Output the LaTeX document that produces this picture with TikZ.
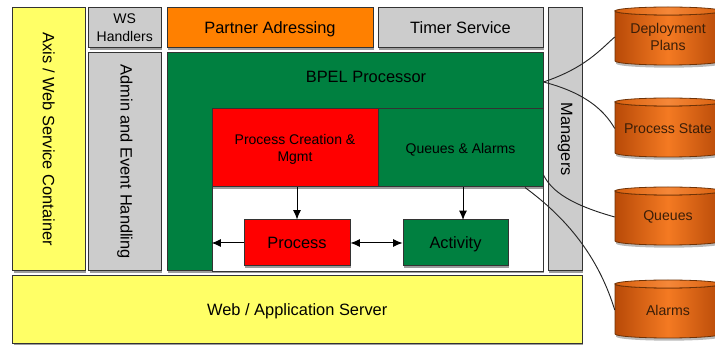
\documentclass[tikz,border=0pt]{standalone}
\usepackage{fontspec}
\setmainfont{Liberation Sans}
\usepackage{graphicx}
\usetikzlibrary{shadows,arrows.meta}

\definecolor{cyellow}{HTML}{FFFF66}
\definecolor{cgray}{HTML}{CCCCCC}
\definecolor{corange}{HTML}{FF8000}
\definecolor{cgreen}{HTML}{008040}
\definecolor{cred}{HTML}{FF0000}
\definecolor{drumside}{HTML}{B84A08}
\definecolor{drummid}{HTML}{F47A22}
\definecolor{drumtop}{HTML}{D8600E}
\definecolor{drumline}{HTML}{6E3206}
\definecolor{drumtext}{HTML}{3A1E08}

\tikzset{
  blk/.style={draw=black!80, line width=0.75pt, inner sep=0pt, align=center,
    font=\fontsize{12.3}{14.5}\selectfont,
    drop shadow={shadow xshift=0.8pt, shadow yshift=-1.2pt, opacity=0.55, fill=black!70}},
  flat/.style={text depth=0pt},
  small/.style={font=\fontsize{10.5}{13}\selectfont},
  flow/.style={-{Latex[length=7pt,width=6pt]}, line width=0.75pt},
  wire/.style={line width=0.7pt, black!85},
  drumlabel/.style={inner sep=0pt, align=center, text=drumtext,
    font=\fontsize{10.6}{13}\selectfont},
}

% box spanning (#2,#3)-(#4,#5): #1 name, #6 extra style, #7 text
\newcommand{\tile}[7]{%
  \node[blk, #6, minimum width={(#4-#2)*0.75pt}, minimum height={(#5-#3)*0.75pt}]
    (#1) at ({(#2+#4)/2},{(#3+#5)/2}) {#7};}

% cylinder: #1 name, #2 top y, #3 bottom y, #4 label
\newcommand{\drum}[4]{%
  \path[drop shadow={shadow xshift=0.8pt, shadow yshift=-2pt, opacity=0.45, fill=black!60},
        left color=drumside, right color=drumside, middle color=drummid,
        draw=drumline, line width=0.6pt]
    (615,#2+4) -- (615,#3-4) arc[start angle=180, end angle=0, x radius=53, y radius=4]
    -- (721,#2+4) arc[start angle=0, end angle=180, x radius=53, y radius=4] -- cycle;
  \path[left color=drumtop, right color=drumtop, middle color=drummid!90!white,
        draw=drumline, line width=0.6pt]
    (668,#2+4) ellipse[x radius=53, y radius=4];
  \node[drumlabel, minimum width={106*0.75pt}, minimum height={(#3-#2)*0.75pt}]
    (#1) at (668,{(#2+#3)/2+1}) {#4};
}

\begin{document}
\begin{tikzpicture}[x=0.75pt, y=-0.75pt]
\useasboundingbox (0,0) rectangle (715,345);

% left column and top row
\tile{axis}{12.5}{7.5}{85}{271}{fill=cyellow}{\rotatebox{-90}{Axis / Web Service Container}}
\tile{ws}{88.5}{7.5}{161}{48}{small, flat, fill=cgray}{WS\\Handlers}
\tile{admin}{88.5}{52.5}{161}{271}{fill=cgray}{\rotatebox{-90}{Admin and Event Handling}}
\tile{partner}{167}{7.5}{373}{48}{flat, fill=corange}{Partner Adressing}
\tile{timer}{378}{7.5}{543}{48}{flat, fill=cgray}{Timer Service}
\tile{mgr}{548}{7.5}{582}{271}{fill=cgray}{\rotatebox{-90}{Managers}}

% BPEL processor with its inner area
\tile{bpel}{167}{52.5}{543}{271}{fill=cgreen}{}
\node[inner sep=0pt, font=\fontsize{12.3}{14.5}\selectfont] (bpeltitle) at (366,77)
  {BPEL Processor};
\node[draw=black!80, line width=0.6pt, fill=white, inner sep=0pt,
      minimum width={(543-212)*0.75pt}, minimum height={(271-109)*0.75pt}]
  (inner) at ({(212+543)/2},{(109+271)/2}) {};
\tile{create}{212}{109}{378}{187}{small, flat, fill=cred}{Process Creation \&\\Mgmt}
\tile{qa}{378}{109}{543}{187}{small, flat, fill=cgreen}{Queues \& Alarms}
\tile{proc}{244}{220}{350}{266}{flat, fill=cred}{Process}
\tile{act}{403}{220}{508}{266}{flat, fill=cgreen}{Activity}

% bottom layer
\tile{server}{12.5}{276}{582}{344}{flat, fill=cyellow}{Web / Application Server}

% flows inside the processor
\draw[flow] (create.south -| proc.north) -- (proc.north);
\draw[flow] (qa.south -| 463,0) -- (463,220);
\draw[flow] (proc.west) -- (proc.west -| inner.west);
\draw[flow, {Latex[length=7pt,width=6pt]}-{Latex[length=7pt,width=6pt]}]
  (proc.east) -- (act.west);

% persistent stores
\drum{plans}{7}{65}{Deployment\\Plans}
\drum{state}{98}{157}{Process State}
\drum{queues}{187}{245}{Queues}
\drum{alarms}{280}{338}{Alarms}

% links from the processor to the stores
\coordinate (hub) at (bpel.east |- 0,82);
\coordinate (qtap) at (qa.east |- 0,175);
\coordinate (atap) at (qa.south -| 525,0);
\draw[wire] (hub) .. controls (585,68) and (600,50) .. (plans.west);
\draw[wire] (hub) .. controls (582,92) and (603,108) .. (state.west);
\draw[wire] (qtap) .. controls (552,192) and (572,205) .. (queues.west);
\draw[wire] (atap) .. controls (572,222) and (600,262) .. (alarms.west);
\end{tikzpicture}
\end{document}
